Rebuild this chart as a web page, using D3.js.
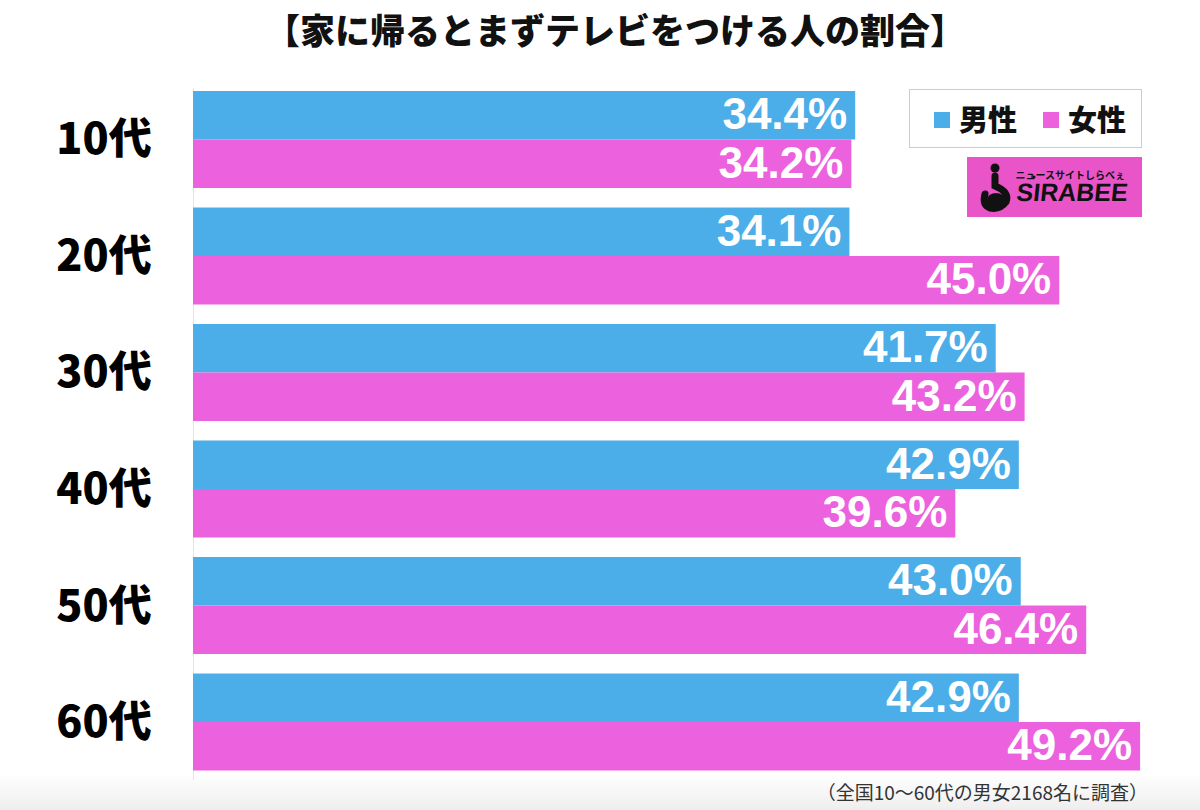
<!DOCTYPE html>
<html><head><meta charset="utf-8">
<script src="https://cdn.jsdelivr.net/npm/d3@7"></script>
<style>html,body{margin:0;padding:0;background:#fff;}svg{display:block;}</style>
</head><body>
<script>
const categories = ["10代","20代","30代","40代","50代","60代"];
const seriesNames = ["男性","女性"];
const male = [34.4, 34.1, 41.7, 42.9, 43.0, 42.9];
const female = [34.2, 45.0, 43.2, 39.6, 46.4, 49.2];
const title = "【家に帰るとまずテレビをつける人の割合】";
const note = "（全国10～60代の男女2168名に調査）";
const colors = ["#4caee8", "#ec61de"];

const W = 1200, H = 810;
const svg = d3.select("body").append("svg").attr("width", W).attr("height", H);
const defs = svg.append("defs");
const g = defs.append("linearGradient").attr("id","bg").attr("x1",0).attr("y1",0).attr("x2",0).attr("y2",1);
g.append("stop").attr("offset","0").attr("stop-color","#ffffff");
g.append("stop").attr("offset","0.955").attr("stop-color","#ffffff");
g.append("stop").attr("offset","1").attr("stop-color","#eeeeee");
svg.append("rect").attr("width",W).attr("height",H).attr("fill","url(#bg)");

const font = "'Liberation Sans','Noto Sans CJK JP',sans-serif";
const jfont = "'Noto Sans CJK JP','Liberation Sans',sans-serif";

const x = d3.scaleLinear().domain([0, 50]).range([193, 1155.5]);
const y = d3.scaleBand().domain(categories).range([91, 770.5]).paddingInner(0.1674).paddingOuter(0);
const ys = d3.scaleBand().domain(seriesNames).range([0, y.bandwidth()]);

// axis line
svg.append("line").attr("x1",193.5).attr("x2",193.5).attr("y1",88).attr("y2",780)
  .attr("stroke","#e6e6e6").attr("stroke-width",1);

const data = [];
categories.forEach((c,i)=>{
  data.push({c, s: seriesNames[0], v: male[i], col: colors[0]});
  data.push({c, s: seriesNames[1], v: female[i], col: colors[1]});
});

svg.selectAll("rect.bar").data(data).join("rect").attr("class","bar")
  .attr("x", x(0)).attr("y", d => y(d.c) + ys(d.s))
  .attr("width", d => x(d.v) - x(0)).attr("height", ys.bandwidth())
  .attr("fill", d => d.col);

svg.selectAll("text.val").data(data).join("text").attr("class","val")
  .attr("x", d => x(d.v) - 8).attr("y", d => y(d.c) + ys(d.s) + ys.bandwidth()/2 + 14)
  .attr("text-anchor","end").attr("fill","#fff")
  .attr("font-family", font).attr("font-weight","bold").attr("font-size", 44)
  .text(d => d.v.toFixed(1) + "%");

// category labels
svg.selectAll("text.cat").data(categories).join("text").attr("class","cat")
  .attr("x", 104).attr("y", d => y(d) + y.bandwidth()/2 + 15)
  .attr("text-anchor","middle").attr("fill","#000")
  .attr("font-family", jfont).attr("font-weight","900").attr("font-size", 43)
  .text(d => d);

// title
svg.append("text").attr("x", 615).attr("y", 44).attr("text-anchor","middle")
  .attr("font-family", jfont).attr("font-weight","900").attr("font-size", 35)
  .attr("fill","#111").text(title);

// legend
svg.append("rect").attr("x",909.5).attr("y",89.5).attr("width",232).attr("height",58)
  .attr("fill","#fff").attr("stroke","#999").attr("stroke-dasharray","1,1");
const lg = svg.append("g");
const lx = [934, 1043];
seriesNames.forEach((s,i)=>{
  lg.append("rect").attr("x", lx[i]).attr("y", 112).attr("width", 16).attr("height", 16).attr("fill", colors[i]);
  lg.append("text").attr("x", lx[i]+25).attr("y", 131).attr("font-family", jfont)
    .attr("font-weight","900").attr("font-size", 29).attr("fill","#111").text(s);
});

// logo
svg.append("rect").attr("x",967).attr("y",157).attr("width",175).attr("height",60).attr("fill","#e955c9");
svg.append("text").attr("x",1127).attr("y",201).attr("text-anchor","end").attr("font-family",font)
  .attr("font-weight","bold").attr("font-size",25).attr("fill","#111")
  .attr("transform","skewX(-6) translate(21,0)").text("SIRABEE");
svg.append("text").attr("x",1125).attr("y",179).attr("text-anchor","end").attr("font-family",jfont)
  .attr("font-weight","bold").attr("font-size",10).attr("fill","#111").text("ニュースサイトしらべぇ");
svg.append("circle").attr("cx",1034).attr("cy",177).attr("r",1.5).attr("fill","#111");
svg.append("circle").attr("cx",995).attr("cy",168).attr("r",4.5).attr("fill","#111");
svg.append("path").attr("d","M995,176 L995,186 Q1010,192 1006,202 Q1000,210 990,208 Q982,205 985,194")
  .attr("fill","none").attr("stroke","#111").attr("stroke-width",7).attr("stroke-linecap","round");
svg.append("ellipse").attr("cx",996).attr("cy",200).attr("rx",9).attr("ry",7).attr("fill","#111");

// note
svg.append("text").attr("x", 1148).attr("y", 800).attr("text-anchor","end")
  .attr("font-family", jfont).attr("font-size", 19).attr("fill","#333").text(note);
</script>
</body></html>
